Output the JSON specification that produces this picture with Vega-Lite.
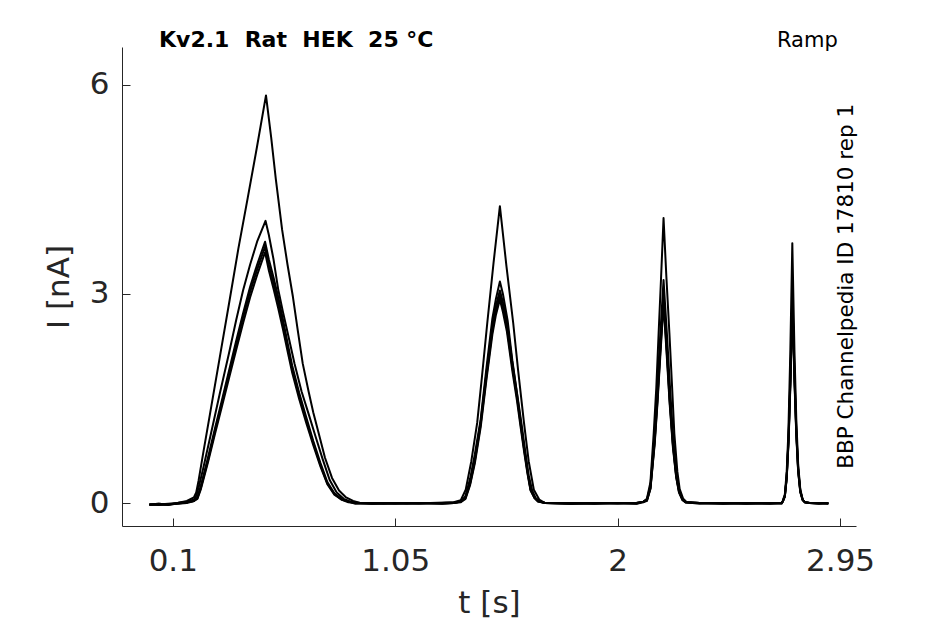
{
"$schema": "https://vega.github.io/schema/vega-lite/v6.json",
"width": 734, "height": 479,
"autosize": {"type": "none"},
"padding": {"left": 122, "top": 47, "right": 89, "bottom": 98},
"background": "white",
"config": {"view": {"stroke": null}, "axis": {"grid": false, "domainColor": "#262626", "tickColor": "#262626", "labelColor": "#262626", "titleColor": "#262626", "labelFont": "DejaVu Sans", "titleFont": "DejaVu Sans", "labelFontSize": 31, "titleFontSize": 31, "titleFontWeight": "normal", "tickSize": -8, "domainWidth": 1, "tickWidth": 1}},
"data": {"values": [
{"trace":"A","t":0,"I":-0.02},{"trace":"A","t":0.04,"I":-0.01},{"trace":"A","t":0.08,"I":-0.02},{"trace":"A","t":0.12,"I":0},{"trace":"A","t":0.16,"I":0.03},{"trace":"A","t":0.19,"I":0.08},{"trace":"A","t":0.2,"I":0.15},{"trace":"A","t":0.21,"I":0.32},{"trace":"A","t":0.23,"I":0.72},{"trace":"A","t":0.26,"I":1.3},{"trace":"A","t":0.3,"I":2.08},{"trace":"A","t":0.34,"I":2.86},{"trace":"A","t":0.38,"I":3.65},{"trace":"A","t":0.42,"I":4.38},{"trace":"A","t":0.46,"I":5.12},{"trace":"A","t":0.498,"I":5.85},{"trace":"A","t":0.52,"I":5.25},{"trace":"A","t":0.54,"I":4.65},{"trace":"A","t":0.567,"I":3.92},{"trace":"A","t":0.59,"I":3.42},{"trace":"A","t":0.613,"I":2.96},{"trace":"A","t":0.635,"I":2.45},{"trace":"A","t":0.655,"I":2.0},{"trace":"A","t":0.68,"I":1.6},{"trace":"A","t":0.7,"I":1.3},{"trace":"A","t":0.72,"I":1.04},{"trace":"A","t":0.75,"I":0.65},{"trace":"A","t":0.78,"I":0.36},{"trace":"A","t":0.81,"I":0.18},{"trace":"A","t":0.84,"I":0.08},{"trace":"A","t":0.87,"I":0.03},{"trace":"A","t":0.9,"I":0},{"trace":"A","t":1.0,"I":-0.01},{"trace":"A","t":1.1,"I":0},{"trace":"A","t":1.2,"I":0},{"trace":"A","t":1.3,"I":0.01},
{"trace":"A","t":1.33,"I":0.04},{"trace":"A","t":1.351,"I":0.19},{"trace":"A","t":1.375,"I":0.6},{"trace":"A","t":1.4,"I":1.15},{"trace":"A","t":1.42,"I":1.8},{"trace":"A","t":1.443,"I":2.58},{"trace":"A","t":1.47,"I":3.45},{"trace":"A","t":1.497,"I":4.26},{"trace":"A","t":1.525,"I":3.4},{"trace":"A","t":1.554,"I":2.58},{"trace":"A","t":1.575,"I":1.9},{"trace":"A","t":1.6,"I":1.15},{"trace":"A","t":1.62,"I":0.6},{"trace":"A","t":1.642,"I":0.19},{"trace":"A","t":1.665,"I":0.05},{"trace":"A","t":1.69,"I":0},{"trace":"A","t":1.8,"I":0},{"trace":"A","t":1.9,"I":-0.01},{"trace":"A","t":2.0,"I":0},{"trace":"A","t":2.08,"I":0},{"trace":"A","t":2.11,"I":0.02},
{"trace":"A","t":2.125,"I":0.06},{"trace":"A","t":2.14,"I":0.3},{"trace":"A","t":2.154,"I":1.0},{"trace":"A","t":2.165,"I":1.65},{"trace":"A","t":2.175,"I":2.44},{"trace":"A","t":2.185,"I":3.2},{"trace":"A","t":2.196,"I":4.09},{"trace":"A","t":2.208,"I":3.25},{"trace":"A","t":2.221,"I":2.44},{"trace":"A","t":2.232,"I":1.7},{"trace":"A","t":2.242,"I":1.0},{"trace":"A","t":2.255,"I":0.45},{"trace":"A","t":2.265,"I":0.2},{"trace":"A","t":2.28,"I":0.06},{"trace":"A","t":2.295,"I":0.01},{"trace":"A","t":2.35,"I":0},{"trace":"A","t":2.45,"I":0},{"trace":"A","t":2.55,"I":-0.01},{"trace":"A","t":2.65,"I":0},{"trace":"A","t":2.7,"I":0},
{"trace":"A","t":2.705,"I":0.03},{"trace":"A","t":2.714,"I":0.12},{"trace":"A","t":2.722,"I":0.45},{"trace":"A","t":2.729,"I":1.0},{"trace":"A","t":2.737,"I":2.1},{"trace":"A","t":2.746,"I":3.73},{"trace":"A","t":2.755,"I":2.2},{"trace":"A","t":2.763,"I":1.2},{"trace":"A","t":2.771,"I":0.55},{"trace":"A","t":2.78,"I":0.2},{"trace":"A","t":2.79,"I":0.05},{"trace":"A","t":2.8,"I":0.01},{"trace":"A","t":2.82,"I":0},{"trace":"A","t":2.86,"I":0},{"trace":"A","t":2.9,"I":-0.01},
{"trace":"B","t":0,"I":-0.02},{"trace":"B","t":0.04,"I":-0.02},{"trace":"B","t":0.08,"I":-0.01},{"trace":"B","t":0.12,"I":0},{"trace":"B","t":0.16,"I":0.02},{"trace":"B","t":0.19,"I":0.05},{"trace":"B","t":0.2,"I":0.1},{"trace":"B","t":0.21,"I":0.22},{"trace":"B","t":0.23,"I":0.5},{"trace":"B","t":0.26,"I":0.95},{"trace":"B","t":0.3,"I":1.56},{"trace":"B","t":0.34,"I":2.15},{"trace":"B","t":0.371,"I":2.63},{"trace":"B","t":0.4,"I":3.05},{"trace":"B","t":0.43,"I":3.42},{"trace":"B","t":0.46,"I":3.75},{"trace":"B","t":0.496,"I":4.05},{"trace":"B","t":0.51,"I":3.85},{"trace":"B","t":0.53,"I":3.5},{"trace":"B","t":0.55,"I":3.07},{"trace":"B","t":0.57,"I":2.75},{"trace":"B","t":0.59,"I":2.45},{"trace":"B","t":0.62,"I":2.0},{"trace":"B","t":0.65,"I":1.6},{"trace":"B","t":0.68,"I":1.28},{"trace":"B","t":0.71,"I":0.95},{"trace":"B","t":0.74,"I":0.63},{"trace":"B","t":0.77,"I":0.33},{"trace":"B","t":0.8,"I":0.15},{"trace":"B","t":0.83,"I":0.06},{"trace":"B","t":0.86,"I":0.02},{"trace":"B","t":0.9,"I":0},{"trace":"B","t":1.0,"I":0},{"trace":"B","t":1.1,"I":-0.01},{"trace":"B","t":1.2,"I":0},{"trace":"B","t":1.3,"I":0},
{"trace":"B","t":1.33,"I":0.02},{"trace":"B","t":1.35,"I":0.1},{"trace":"B","t":1.37,"I":0.35},{"trace":"B","t":1.39,"I":0.7},{"trace":"B","t":1.415,"I":1.2},{"trace":"B","t":1.44,"I":1.95},{"trace":"B","t":1.465,"I":2.65},{"trace":"B","t":1.48,"I":2.93},{"trace":"B","t":1.497,"I":3.18},{"trace":"B","t":1.51,"I":3.0},{"trace":"B","t":1.53,"I":2.62},{"trace":"B","t":1.55,"I":2.05},{"trace":"B","t":1.57,"I":1.58},{"trace":"B","t":1.59,"I":1.12},{"trace":"B","t":1.605,"I":0.75},{"trace":"B","t":1.62,"I":0.4},{"trace":"B","t":1.635,"I":0.18},{"trace":"B","t":1.65,"I":0.07},{"trace":"B","t":1.67,"I":0.02},{"trace":"B","t":1.69,"I":0},{"trace":"B","t":1.8,"I":-0.01},{"trace":"B","t":1.9,"I":0},{"trace":"B","t":2.0,"I":0},{"trace":"B","t":2.08,"I":0},{"trace":"B","t":2.11,"I":0.02},
{"trace":"B","t":2.125,"I":0.05},{"trace":"B","t":2.14,"I":0.25},{"trace":"B","t":2.156,"I":0.9},{"trace":"B","t":2.168,"I":1.55},{"trace":"B","t":2.18,"I":2.3},{"trace":"B","t":2.196,"I":3.2},{"trace":"B","t":2.21,"I":2.45},{"trace":"B","t":2.222,"I":1.75},{"trace":"B","t":2.235,"I":1.05},{"trace":"B","t":2.248,"I":0.5},{"trace":"B","t":2.26,"I":0.22},{"trace":"B","t":2.275,"I":0.07},{"trace":"B","t":2.29,"I":0.01},{"trace":"B","t":2.35,"I":0},{"trace":"B","t":2.45,"I":0},{"trace":"B","t":2.55,"I":0},{"trace":"B","t":2.65,"I":-0.01},{"trace":"B","t":2.7,"I":0},
{"trace":"B","t":2.705,"I":0.02},{"trace":"B","t":2.714,"I":0.1},{"trace":"B","t":2.722,"I":0.38},{"trace":"B","t":2.73,"I":0.95},{"trace":"B","t":2.738,"I":1.85},{"trace":"B","t":2.746,"I":3.0},{"trace":"B","t":2.755,"I":1.9},{"trace":"B","t":2.763,"I":1.05},{"trace":"B","t":2.771,"I":0.5},{"trace":"B","t":2.78,"I":0.18},{"trace":"B","t":2.79,"I":0.05},{"trace":"B","t":2.8,"I":0.01},{"trace":"B","t":2.82,"I":0},{"trace":"B","t":2.86,"I":0},{"trace":"B","t":2.9,"I":0},
{"trace":"C","t":0,"I":-0.02},{"trace":"C","t":0.04,"I":-0.03},{"trace":"C","t":0.08,"I":-0.02},{"trace":"C","t":0.12,"I":-0.01},{"trace":"C","t":0.16,"I":0.01},{"trace":"C","t":0.19,"I":0.03},{"trace":"C","t":0.205,"I":0.08},{"trace":"C","t":0.22,"I":0.25},{"trace":"C","t":0.25,"I":0.65},{"trace":"C","t":0.28,"I":1.07},{"trace":"C","t":0.31,"I":1.48},{"trace":"C","t":0.34,"I":1.9},{"trace":"C","t":0.37,"I":2.32},{"trace":"C","t":0.4,"I":2.72},{"trace":"C","t":0.43,"I":3.1},{"trace":"C","t":0.46,"I":3.42},{"trace":"C","t":0.494,"I":3.75},{"trace":"C","t":0.51,"I":3.5},{"trace":"C","t":0.53,"I":3.24},{"trace":"C","t":0.55,"I":2.96},{"trace":"C","t":0.57,"I":2.64},{"trace":"C","t":0.59,"I":2.3},{"trace":"C","t":0.61,"I":1.97},{"trace":"C","t":0.64,"I":1.58},{"trace":"C","t":0.67,"I":1.23},{"trace":"C","t":0.7,"I":0.89},{"trace":"C","t":0.73,"I":0.58},{"trace":"C","t":0.76,"I":0.3},{"trace":"C","t":0.79,"I":0.14},{"trace":"C","t":0.82,"I":0.06},{"trace":"C","t":0.85,"I":0.02},{"trace":"C","t":0.88,"I":0},{"trace":"C","t":0.95,"I":-0.01},{"trace":"C","t":1.05,"I":0},{"trace":"C","t":1.15,"I":-0.01},{"trace":"C","t":1.25,"I":0},{"trace":"C","t":1.3,"I":0.01},
{"trace":"C","t":1.33,"I":0.02},{"trace":"C","t":1.35,"I":0.08},{"trace":"C","t":1.37,"I":0.3},{"trace":"C","t":1.39,"I":0.63},{"trace":"C","t":1.415,"I":1.17},{"trace":"C","t":1.44,"I":1.88},{"trace":"C","t":1.465,"I":2.54},{"trace":"C","t":1.48,"I":2.83},{"trace":"C","t":1.497,"I":3.05},{"trace":"C","t":1.51,"I":2.88},{"trace":"C","t":1.527,"I":2.6},{"trace":"C","t":1.55,"I":2.02},{"trace":"C","t":1.57,"I":1.57},{"trace":"C","t":1.586,"I":1.16},{"trace":"C","t":1.6,"I":0.81},{"trace":"C","t":1.615,"I":0.46},{"trace":"C","t":1.628,"I":0.2},{"trace":"C","t":1.645,"I":0.08},{"trace":"C","t":1.66,"I":0.03},{"trace":"C","t":1.69,"I":0},{"trace":"C","t":1.8,"I":-0.01},{"trace":"C","t":1.9,"I":0},{"trace":"C","t":2.0,"I":-0.01},{"trace":"C","t":2.08,"I":0},{"trace":"C","t":2.11,"I":0.02},
{"trace":"C","t":2.125,"I":0.04},{"trace":"C","t":2.14,"I":0.22},{"trace":"C","t":2.158,"I":0.9},{"trace":"C","t":2.17,"I":1.52},{"trace":"C","t":2.182,"I":2.22},{"trace":"C","t":2.196,"I":2.98},{"trace":"C","t":2.21,"I":2.22},{"trace":"C","t":2.222,"I":1.52},{"trace":"C","t":2.236,"I":0.86},{"trace":"C","t":2.25,"I":0.4},{"trace":"C","t":2.262,"I":0.17},{"trace":"C","t":2.277,"I":0.05},{"trace":"C","t":2.29,"I":0.01},{"trace":"C","t":2.35,"I":0},{"trace":"C","t":2.45,"I":-0.01},{"trace":"C","t":2.55,"I":0},{"trace":"C","t":2.65,"I":-0.01},{"trace":"C","t":2.7,"I":0},
{"trace":"C","t":2.705,"I":0.02},{"trace":"C","t":2.714,"I":0.1},{"trace":"C","t":2.722,"I":0.37},{"trace":"C","t":2.73,"I":0.93},{"trace":"C","t":2.738,"I":1.8},{"trace":"C","t":2.746,"I":2.95},{"trace":"C","t":2.755,"I":1.85},{"trace":"C","t":2.763,"I":1.02},{"trace":"C","t":2.771,"I":0.48},{"trace":"C","t":2.78,"I":0.17},{"trace":"C","t":2.79,"I":0.05},{"trace":"C","t":2.8,"I":0.01},{"trace":"C","t":2.82,"I":0},{"trace":"C","t":2.86,"I":-0.01},{"trace":"C","t":2.9,"I":0},
{"trace":"D","t":0,"I":-0.03},{"trace":"D","t":0.04,"I":-0.02},{"trace":"D","t":0.08,"I":-0.03},{"trace":"D","t":0.12,"I":0},{"trace":"D","t":0.16,"I":0.01},{"trace":"D","t":0.19,"I":0.03},{"trace":"D","t":0.205,"I":0.07},{"trace":"D","t":0.22,"I":0.22},{"trace":"D","t":0.25,"I":0.61},{"trace":"D","t":0.28,"I":1.03},{"trace":"D","t":0.31,"I":1.44},{"trace":"D","t":0.34,"I":1.85},{"trace":"D","t":0.37,"I":2.26},{"trace":"D","t":0.4,"I":2.66},{"trace":"D","t":0.43,"I":3.03},{"trace":"D","t":0.46,"I":3.35},{"trace":"D","t":0.494,"I":3.68},{"trace":"D","t":0.51,"I":3.42},{"trace":"D","t":0.53,"I":3.16},{"trace":"D","t":0.55,"I":2.88},{"trace":"D","t":0.57,"I":2.57},{"trace":"D","t":0.59,"I":2.24},{"trace":"D","t":0.61,"I":1.92},{"trace":"D","t":0.64,"I":1.54},{"trace":"D","t":0.67,"I":1.19},{"trace":"D","t":0.7,"I":0.86},{"trace":"D","t":0.73,"I":0.55},{"trace":"D","t":0.76,"I":0.28},{"trace":"D","t":0.79,"I":0.13},{"trace":"D","t":0.82,"I":0.05},{"trace":"D","t":0.85,"I":0.02},{"trace":"D","t":0.88,"I":-0.01},{"trace":"D","t":0.95,"I":0},{"trace":"D","t":1.05,"I":-0.01},{"trace":"D","t":1.15,"I":0},{"trace":"D","t":1.25,"I":-0.01},{"trace":"D","t":1.3,"I":0},
{"trace":"D","t":1.33,"I":0.02},{"trace":"D","t":1.35,"I":0.07},{"trace":"D","t":1.37,"I":0.28},{"trace":"D","t":1.39,"I":0.6},{"trace":"D","t":1.415,"I":1.13},{"trace":"D","t":1.44,"I":1.83},{"trace":"D","t":1.465,"I":2.48},{"trace":"D","t":1.48,"I":2.76},{"trace":"D","t":1.497,"I":2.98},{"trace":"D","t":1.51,"I":2.8},{"trace":"D","t":1.527,"I":2.52},{"trace":"D","t":1.55,"I":1.96},{"trace":"D","t":1.57,"I":1.52},{"trace":"D","t":1.586,"I":1.12},{"trace":"D","t":1.6,"I":0.78},{"trace":"D","t":1.615,"I":0.44},{"trace":"D","t":1.628,"I":0.19},{"trace":"D","t":1.645,"I":0.07},{"trace":"D","t":1.66,"I":0.02},{"trace":"D","t":1.69,"I":0},{"trace":"D","t":1.8,"I":0},{"trace":"D","t":1.9,"I":-0.01},{"trace":"D","t":2.0,"I":0},{"trace":"D","t":2.08,"I":-0.01},{"trace":"D","t":2.11,"I":0.02},
{"trace":"D","t":2.125,"I":0.04},{"trace":"D","t":2.14,"I":0.21},{"trace":"D","t":2.158,"I":0.87},{"trace":"D","t":2.17,"I":1.47},{"trace":"D","t":2.182,"I":2.16},{"trace":"D","t":2.196,"I":2.92},{"trace":"D","t":2.21,"I":2.16},{"trace":"D","t":2.222,"I":1.47},{"trace":"D","t":2.236,"I":0.83},{"trace":"D","t":2.25,"I":0.38},{"trace":"D","t":2.262,"I":0.16},{"trace":"D","t":2.277,"I":0.05},{"trace":"D","t":2.29,"I":0.01},{"trace":"D","t":2.35,"I":-0.01},{"trace":"D","t":2.45,"I":0},{"trace":"D","t":2.55,"I":-0.01},{"trace":"D","t":2.65,"I":0},{"trace":"D","t":2.7,"I":0},
{"trace":"D","t":2.705,"I":0.02},{"trace":"D","t":2.714,"I":0.1},{"trace":"D","t":2.722,"I":0.36},{"trace":"D","t":2.73,"I":0.9},{"trace":"D","t":2.738,"I":1.76},{"trace":"D","t":2.746,"I":2.9},{"trace":"D","t":2.755,"I":1.8},{"trace":"D","t":2.763,"I":1.0},{"trace":"D","t":2.771,"I":0.46},{"trace":"D","t":2.78,"I":0.16},{"trace":"D","t":2.79,"I":0.05},{"trace":"D","t":2.8,"I":0.01},{"trace":"D","t":2.82,"I":0},{"trace":"D","t":2.86,"I":0},{"trace":"D","t":2.9,"I":-0.01},
{"trace":"E","t":0,"I":-0.02},{"trace":"E","t":0.04,"I":-0.01},{"trace":"E","t":0.08,"I":-0.02},{"trace":"E","t":0.12,"I":-0.01},{"trace":"E","t":0.16,"I":0},{"trace":"E","t":0.19,"I":0.03},{"trace":"E","t":0.205,"I":0.06},{"trace":"E","t":0.22,"I":0.2},{"trace":"E","t":0.25,"I":0.58},{"trace":"E","t":0.28,"I":0.99},{"trace":"E","t":0.31,"I":1.39},{"trace":"E","t":0.34,"I":1.79},{"trace":"E","t":0.37,"I":2.19},{"trace":"E","t":0.4,"I":2.58},{"trace":"E","t":0.43,"I":2.95},{"trace":"E","t":0.46,"I":3.27},{"trace":"E","t":0.494,"I":3.6},{"trace":"E","t":0.51,"I":3.34},{"trace":"E","t":0.53,"I":3.08},{"trace":"E","t":0.55,"I":2.8},{"trace":"E","t":0.57,"I":2.5},{"trace":"E","t":0.59,"I":2.18},{"trace":"E","t":0.61,"I":1.87},{"trace":"E","t":0.64,"I":1.49},{"trace":"E","t":0.67,"I":1.15},{"trace":"E","t":0.7,"I":0.83},{"trace":"E","t":0.73,"I":0.53},{"trace":"E","t":0.76,"I":0.27},{"trace":"E","t":0.79,"I":0.12},{"trace":"E","t":0.82,"I":0.05},{"trace":"E","t":0.85,"I":0.01},{"trace":"E","t":0.88,"I":0},{"trace":"E","t":0.95,"I":-0.01},{"trace":"E","t":1.05,"I":0},{"trace":"E","t":1.15,"I":0},{"trace":"E","t":1.25,"I":-0.01},{"trace":"E","t":1.3,"I":0},
{"trace":"E","t":1.33,"I":0.01},{"trace":"E","t":1.35,"I":0.06},{"trace":"E","t":1.37,"I":0.26},{"trace":"E","t":1.39,"I":0.57},{"trace":"E","t":1.415,"I":1.09},{"trace":"E","t":1.44,"I":1.78},{"trace":"E","t":1.465,"I":2.42},{"trace":"E","t":1.48,"I":2.7},{"trace":"E","t":1.497,"I":2.92},{"trace":"E","t":1.51,"I":2.74},{"trace":"E","t":1.527,"I":2.46},{"trace":"E","t":1.55,"I":1.9},{"trace":"E","t":1.57,"I":1.47},{"trace":"E","t":1.586,"I":1.08},{"trace":"E","t":1.6,"I":0.75},{"trace":"E","t":1.615,"I":0.42},{"trace":"E","t":1.628,"I":0.18},{"trace":"E","t":1.645,"I":0.07},{"trace":"E","t":1.66,"I":0.02},{"trace":"E","t":1.69,"I":0},{"trace":"E","t":1.8,"I":-0.01},{"trace":"E","t":1.9,"I":0},{"trace":"E","t":2.0,"I":0},{"trace":"E","t":2.08,"I":-0.01},{"trace":"E","t":2.11,"I":0.01},
{"trace":"E","t":2.125,"I":0.03},{"trace":"E","t":2.14,"I":0.2},{"trace":"E","t":2.158,"I":0.84},{"trace":"E","t":2.17,"I":1.43},{"trace":"E","t":2.182,"I":2.1},{"trace":"E","t":2.196,"I":2.86},{"trace":"E","t":2.21,"I":2.1},{"trace":"E","t":2.222,"I":1.43},{"trace":"E","t":2.236,"I":0.8},{"trace":"E","t":2.25,"I":0.37},{"trace":"E","t":2.262,"I":0.15},{"trace":"E","t":2.277,"I":0.04},{"trace":"E","t":2.29,"I":0.01},{"trace":"E","t":2.35,"I":0},{"trace":"E","t":2.45,"I":-0.01},{"trace":"E","t":2.55,"I":0},{"trace":"E","t":2.65,"I":0},{"trace":"E","t":2.7,"I":-0.01},
{"trace":"E","t":2.705,"I":0.02},{"trace":"E","t":2.714,"I":0.09},{"trace":"E","t":2.722,"I":0.35},{"trace":"E","t":2.73,"I":0.88},{"trace":"E","t":2.738,"I":1.72},{"trace":"E","t":2.746,"I":2.85},{"trace":"E","t":2.755,"I":1.76},{"trace":"E","t":2.763,"I":0.97},{"trace":"E","t":2.771,"I":0.45},{"trace":"E","t":2.78,"I":0.16},{"trace":"E","t":2.79,"I":0.04},{"trace":"E","t":2.8,"I":0.01},{"trace":"E","t":2.82,"I":0},{"trace":"E","t":2.86,"I":-0.01},{"trace":"E","t":2.9,"I":0}
]},
"layer": [
{"mark": {"type": "line", "color": "black", "strokeWidth": 2, "strokeJoin": "round"},
 "encoding": {
  "x": {"field": "t", "type": "quantitative", "scale": {"domain": [-0.117, 3.018], "nice": false, "zero": false}, "axis": {"title": "t [s]", "values": [0.1, 1.05, 2, 2.95], "labelExpr": "toString(datum.value)", "labelPadding": 28, "titlePadding": 12}},
  "y": {"field": "I", "type": "quantitative", "scale": {"domain": [-0.33, 6.545], "nice": false, "zero": false}, "axis": {"title": "I [nA]", "values": [0, 3, 6], "labelExpr": "toString(datum.value)", "labelPadding": 21, "titlePadding": 14}},
  "detail": {"field": "trace"}
 }},
{"data": {"values": [{}]}, "mark": {"type": "text", "text": "Kv2.1\u00a0 Rat\u00a0 HEK\u00a0 25 °C", "align": "left", "baseline": "alphabetic", "font": "DejaVu Sans", "fontSize": 22, "fontWeight": "bold", "color": "black"},
 "encoding": {"x": {"datum": 0.041}, "y": {"datum": 6.55}}},
{"data": {"values": [{}]}, "mark": {"type": "text", "text": "Ramp", "align": "right", "baseline": "alphabetic", "font": "DejaVu Sans", "fontSize": 21, "color": "black"},
 "encoding": {"x": {"datum": 2.94}, "y": {"datum": 6.55}}},
{"data": {"values": [{}]}, "mark": {"type": "text", "text": "BBP Channelpedia ID 17810 rep 1", "angle": 270, "align": "center", "baseline": "alphabetic", "font": "DejaVu Sans", "fontSize": 21.5, "color": "black"},
 "encoding": {"x": {"datum": 3.006}, "y": {"datum": 3.11}}}
]
}
